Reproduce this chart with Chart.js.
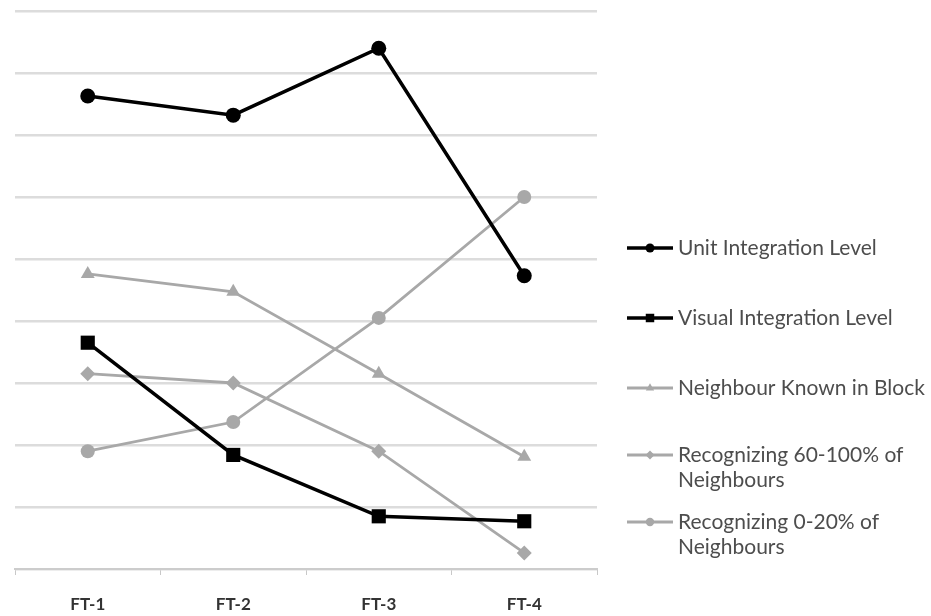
<!DOCTYPE html>
<html lang="en">
    <head>
        <meta charset="UTF-8" />
        <title>Integration levels FT-1 to FT-4</title>
        <script src="https://cdn.jsdelivr.net/npm/chart.js"></script>
        <style>
            html, body { margin: 0; padding: 0; background: #fff; }
        </style>
    </head>
    <body>
        <canvas id="chart" width="931" height="616"></canvas>

        <script>
            // data (arbitrary units, gridline = 1)
            const categories = ["FT-1", "FT-2", "FT-3", "FT-4"];
            const unitIntegration = [7.63, 7.32, 8.4, 4.73];
            const visualIntegration = [3.65, 1.84, 0.85, 0.77];
            const neighbourKnown = [4.76, 4.47, 3.15, 1.81];
            const recognizing60to100 = [3.15, 3.0, 1.9, 0.26];
            const recognizing0to20 = [1.9, 2.37, 4.05, 6.0];
            const seriesNames = [
                ["Unit Integration Level"],
                ["Visual Integration Level"],
                ["Neighbour Known in Block"],
                ["Recognizing 60-100% of", "Neighbours"],
                ["Recognizing 0-20% of", "Neighbours"],
            ];

            const grey = "#a8a8a8";

            function series(i, data, color, style, radius, width) {
                return {
                    label: seriesNames[i].join(" "),
                    data: data,
                    borderColor: color,
                    backgroundColor: color,
                    pointStyle: style,
                    pointRadius: radius,
                    pointHoverRadius: radius,
                    borderWidth: width,
                    pointBorderWidth: 0,
                    tension: 0,
                };
            }

            // legend drawn at the right, Excel style
            const legendRows = [248, 318, 388, 455, 522];
            const sideLegend = {
                id: "sideLegend",
                afterDraw(chart) {
                    const ctx = chart.ctx;
                    ctx.save();
                    chart.data.datasets.forEach((ds, i) => {
                        const y = legendRows[i];
                        ctx.strokeStyle = ds.borderColor;
                        ctx.lineWidth = ds.borderWidth;
                        ctx.beginPath();
                        ctx.moveTo(627, y);
                        ctx.lineTo(673, y);
                        ctx.stroke();
                        ctx.fillStyle = ds.backgroundColor;
                        Chart.helpers.drawPoint(ctx, { pointStyle: ds.pointStyle, radius: ds.pointRadius * 0.6, borderWidth: 0 }, 650, y);
                        ctx.fillStyle = "#4d4d4d";
                        ctx.font = "21px Lato";
                        ctx.textBaseline = "middle";
                        seriesNames[i].forEach((t, k) => ctx.fillText(t, 678, y + k * 25));
                    });
                    ctx.restore();
                },
            };

            new Chart(document.getElementById("chart"), {
                type: "line",
                data: {
                    labels: categories,
                    datasets: [
                        series(0, unitIntegration, "#000000", "circle", 7.5, 3.5),
                        series(1, visualIntegration, "#000000", "rect", 10, 3.5),
                        series(2, neighbourKnown, grey, "triangle", 8, 2.8),
                        series(3, recognizing60to100, grey, "rectRot", 7.5, 2.8),
                        series(4, recognizing0to20, grey, "circle", 7, 2.8),
                    ],
                },
                options: {
                    responsive: false,
                    animation: false,
                    layout: { autoPadding: false, padding: { left: 15, right: 334, top: 11, bottom: 0 } },
                    plugins: { legend: { display: false }, tooltip: { enabled: false } },
                    scales: {
                        x: {
                            offset: true,
                            afterFit(scale) {
                                scale.height = 47;
                            },
                            grid: { display: true, drawOnChartArea: false, color: "#c8c8c8", tickLength: 6, offset: true },
                            border: { color: "#cccccc", width: 2 },
                            ticks: { color: "#333", font: { family: "Lato", size: 17, weight: "bold" }, padding: 19 },
                        },
                        y: {
                            min: 0,
                            max: 9,
                            ticks: { display: false, stepSize: 1 },
                            grid: { color: "#dcdcdc", lineWidth: 2.5, drawTicks: false },
                            border: { display: false },
                        },
                    },
                },
                plugins: [sideLegend],
            });
        </script>
    </body>
</html>
